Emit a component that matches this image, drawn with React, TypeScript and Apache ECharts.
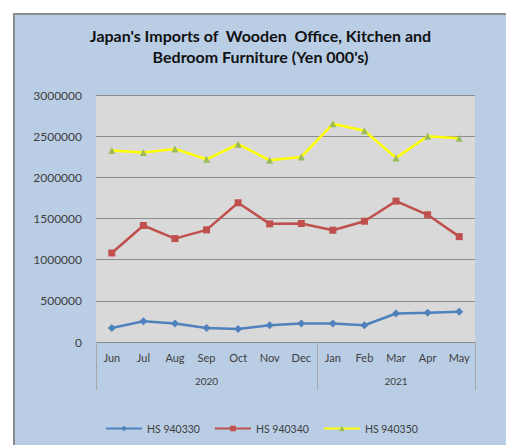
import React, { useEffect, useRef } from "react";
import * as echarts from "echarts";

const months = ["Jun", "Jul", "Aug", "Sep", "Oct", "Nov", "Dec", "Jan", "Feb", "Mar", "Apr", "May"];
const yearLabels = ["", "", "", "2020", "", "", "", "", "", "2021", "", ""];
const hs940330 = [171000, 252000, 224000, 171000, 159000, 204000, 224000, 224000, 204000, 346000, 354000, 366000];
const hs940340 = [1081000, 1415000, 1256000, 1362000, 1691000, 1435000, 1439000, 1358000, 1467000, 1711000, 1545000, 1280000];
const hs940350 = [2326000, 2301000, 2345000, 2219000, 2402000, 2207000, 2248000, 2650000, 2565000, 2236000, 2500000, 2476000];
const seriesNames = ["HS 940330", "HS 940340", "HS 940350"];

export default function App() {
  const ref = useRef<HTMLDivElement>(null);
  useEffect(() => {
    const chart = echarts.init(ref.current!, null, { renderer: "svg" });
    const font = "Lato, 'Noto Sans', sans-serif";
    chart.setOption({
      animation: false,
      backgroundColor: "#B9CDE5",
      textStyle: { fontFamily: font },
      title: {
        text: "Japan's Imports of  Wooden  Office, Kitchen and\nBedroom Furniture (Yen 000's)",
        left: "center",
        top: 5,
        textStyle: { fontSize: 16, fontWeight: "bold", color: "#111", lineHeight: 21, fontFamily: font },
      },
      legend: {
        data: seriesNames,
        left: 85,
        top: 403,
        itemWidth: 36,
        itemHeight: 7,
        itemGap: 14,
        textStyle: { fontSize: 10.5, color: "#404040", fontFamily: font },
      },
      grid: { left: 81, right: 31, top: 80, bottom: 103, backgroundColor: "#D9D9D9", show: true, borderWidth: 0 },
      xAxis: [
        {
          type: "category",
          data: months,
          position: "bottom",
          axisLine: { lineStyle: { color: "#8C8C8C", width: 1 } },
          axisTick: {
            show: true,
            interval: (i: number) => i === 0 || i === 7,
            length: 48,
            lineStyle: { color: "#A6A6A6" },
          },
          axisLabel: { interval: 0, fontSize: 11, color: "#404040", margin: 10, fontFamily: font },
        },
        {
          type: "category",
          data: yearLabels,
          position: "bottom",
          axisLine: { show: false },
          axisTick: { show: false },
          axisLabel: { interval: 0, fontSize: 10, color: "#404040", margin: 34, fontFamily: font },
        },
      ],
      yAxis: {
        type: "value",
        min: 0,
        max: 3000000,
        interval: 500000,
        axisLine: { show: false },
        axisTick: { show: false },
        axisLabel: {
          fontSize: 12,
          color: "#404040",
          margin: 14,
          fontFamily: font,
          formatter: (v: number) => String(v),
        },
        splitLine: { lineStyle: { color: "#8C8C8C", width: 1 } },
      },
      series: [
        {
          name: seriesNames[0],
          type: "line",
          data: hs940330,
          symbol: "diamond",
          symbolSize: 8,
          lineStyle: { color: "#4F81BD", width: 2.5 },
          itemStyle: { color: "#4F81BD" },
        },
        {
          name: seriesNames[1],
          type: "line",
          data: hs940340,
          symbol: "rect",
          symbolSize: 7,
          lineStyle: { color: "#C0504D", width: 2.5 },
          itemStyle: { color: "#C0504D" },
        },
        {
          name: seriesNames[2],
          type: "line",
          data: hs940350,
          symbol: "triangle",
          symbolSize: 7,
          lineStyle: { color: "#FFFF00", width: 2.5 },
          itemStyle: { color: "#9BBB59" },
        },
      ],
    });
    return () => chart.dispose();
  }, []);
  return (
    <div style={{ position: "fixed", left: 0, top: 0, width: 506, height: 445, background: "#fff" }}>
      <div
        style={{
          position: "absolute",
          left: 13,
          top: 13,
          width: 493,
          height: 432,
          borderLeft: "2px solid #8C8C8C",
          borderTop: "2px solid #8C8C8C",
          boxSizing: "border-box",
        }}
      >
        <div ref={ref} style={{ position: "absolute", left: 0, top: 0, width: 491, height: 430 }} />
      </div>
    </div>
  );
}
